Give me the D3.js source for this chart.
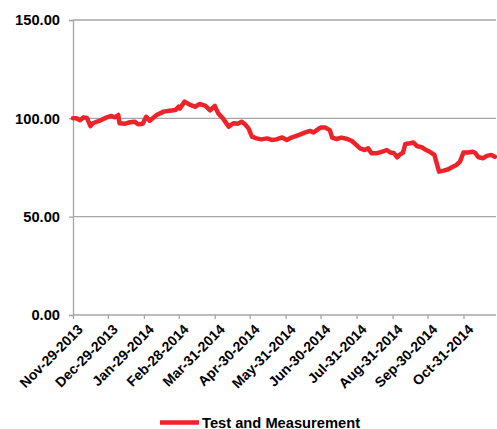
<!DOCTYPE html>
<html>
<head>
<meta charset="utf-8">
<script src="https://cdn.jsdelivr.net/npm/d3@7"></script>
<style>
  html, body { margin: 0; padding: 0; background: #fff; }
  svg { display: block; }
  text { font-family: "Liberation Sans", Arial, sans-serif; font-weight: bold; fill: #000; }
</style>
</head>
<body>
<svg id="chart" width="497" height="429"></svg>
<script>
// Index level of the Test and Measurement group, Nov 2013 - Nov 2014
const seriesName = "Test and Measurement";

const dates = [
  "2013-11-29","2013-12-02","2013-12-05","2013-12-08","2013-12-11","2013-12-14","2013-12-16",
  "2013-12-22","2013-12-28","2014-01-01","2014-01-04","2014-01-07","2014-01-08","2014-01-13",
  "2014-01-17","2014-01-21","2014-01-24","2014-01-28","2014-01-31","2014-02-03","2014-02-09",
  "2014-02-15","2014-02-20","2014-02-25","2014-02-28","2014-03-01","2014-03-05","2014-03-10",
  "2014-03-14","2014-03-18","2014-03-23","2014-03-27","2014-03-31","2014-04-03","2014-04-07",
  "2014-04-12","2014-04-16","2014-04-20","2014-04-23","2014-04-26","2014-04-29","2014-05-02",
  "2014-05-06","2014-05-10","2014-05-15","2014-05-19","2014-05-23","2014-05-28","2014-06-01",
  "2014-06-05","2014-06-11","2014-06-17","2014-06-21","2014-06-24","2014-06-27","2014-06-30",
  "2014-07-04","2014-07-08","2014-07-10","2014-07-14","2014-07-18","2014-07-23","2014-07-27",
  "2014-07-31","2014-08-03","2014-08-07","2014-08-10","2014-08-13","2014-08-17","2014-08-22",
  "2014-08-26","2014-08-29","2014-09-01","2014-09-04","2014-09-06","2014-09-09","2014-09-11",
  "2014-09-15","2014-09-18","2014-09-21","2014-09-25","2014-09-28","2014-10-02","2014-10-06",
  "2014-10-08","2014-10-10","2014-10-14","2014-10-18","2014-10-21","2014-10-25","2014-10-28",
  "2014-10-31","2014-11-04","2014-11-08","2014-11-10","2014-11-13","2014-11-17","2014-11-20",
  "2014-11-24","2014-11-27"
];

const values = [
  100.0, 100.0, 99.0, 100.5, 100.2, 96.0, 97.5,
  98.8, 100.5, 101.2, 100.5, 101.7, 97.5, 97.3,
  98.0, 98.3, 97.0, 97.3, 100.8, 98.8, 101.7,
  103.4, 103.9, 104.2, 105.9, 105.0, 108.5, 106.8,
  105.9, 107.3, 106.3, 104.0, 106.3, 102.5, 100.0,
  95.8, 97.5, 97.3, 98.3, 97.0, 94.9, 90.7,
  89.8, 89.3, 89.8, 89.0, 89.3, 90.3, 89.0,
  90.2, 91.5, 92.9, 93.6, 92.8, 94.1, 95.3,
  95.3, 94.0, 90.2, 89.5, 90.2, 89.5, 88.5,
  86.4, 84.7, 83.9, 84.7, 82.2, 82.2, 83.0,
  83.9, 82.6, 82.4, 80.2, 81.4, 82.6, 87.0,
  87.3, 87.7, 85.9, 85.3, 84.2, 83.0, 81.4,
  77.1, 72.9, 73.4, 74.1, 75.1, 76.3, 78.0,
  82.6, 82.6, 83.0, 82.5, 80.2, 79.7, 80.9,
  81.4, 80.5
];

const xTickDates = [
  "2013-11-29","2013-12-29","2014-01-29","2014-02-28","2014-03-31","2014-04-30",
  "2014-05-31","2014-06-30","2014-07-31","2014-08-31","2014-09-30","2014-10-31"
];
const yTicks = [0, 50, 100, 150];

const parse = d3.utcParse("%Y-%m-%d");
const fmtDate = d3.utcFormat("%b-%d-%Y");
const data = dates.map((d, i) => ({ date: parse(d), value: values[i] }));

const svg = d3.select("#chart");
const plot = { left: 73, right: 496, top: 20, bottom: 315 };

const x = d3.scaleUtc()
  .domain([parse("2013-11-29"), parse("2014-11-28")])
  .range([plot.left, plot.right]);
const y = d3.scaleLinear().domain([0, 150]).range([plot.bottom, plot.top]);

const gridColor = "#a6a6a6";
const fontStack = "'Liberation Sans', Arial, sans-serif";

// Horizontal gridlines
svg.append("g")
  .selectAll("line")
  .data(yTicks.filter(v => v > 0))
  .join("line")
  .attr("x1", plot.left).attr("x2", plot.right)
  .attr("y1", d => y(d)).attr("y2", d => y(d))
  .attr("stroke", gridColor).attr("stroke-width", 1.3);

// Y axis
const yAxis = svg.append("g")
  .attr("transform", `translate(${plot.left},0)`)
  .call(d3.axisLeft(y).tickValues(yTicks).tickFormat(d3.format(".2f")).tickSize(4).tickPadding(9));
yAxis.select(".domain").attr("stroke", gridColor).attr("stroke-width", 1.3);
yAxis.selectAll(".tick line").attr("stroke", gridColor).attr("stroke-width", 1.3);
yAxis.selectAll(".tick text")
  .attr("font-size", 14.7).attr("font-weight", "bold")
  .attr("font-family", fontStack).attr("fill", "#000");

// X axis
const xAxis = svg.append("g")
  .attr("transform", `translate(0,${plot.bottom})`)
  .call(d3.axisBottom(x).tickValues(xTickDates.map(parse)).tickFormat(fmtDate).tickSize(4).tickSizeOuter(0));
xAxis.select(".domain").attr("stroke", gridColor).attr("stroke-width", 1.3)
  .attr("d", `M${plot.left},0H${plot.right}`);
xAxis.selectAll(".tick line").attr("stroke", gridColor).attr("stroke-width", 1.3);
xAxis.selectAll(".tick text")
  .attr("font-size", 14).attr("font-weight", "bold")
  .attr("font-family", fontStack).attr("fill", "#000")
  .attr("text-anchor", "end")
  .attr("dy", null)
  .attr("transform", "translate(3,8) rotate(-45)")
  .attr("x", 0).attr("y", 0)
  .attr("dominant-baseline", "hanging");

// Series line
const lineColor = "#ee2229";
svg.append("path")
  .datum(data)
  .attr("fill", "none")
  .attr("stroke", lineColor)
  .attr("stroke-width", 4.5)
  .attr("stroke-linejoin", "round")
  .attr("stroke-linecap", "round")
  .attr("d", d3.line().x(d => x(d.date)).y(d => y(d.value)));

// Legend
const legend = svg.append("g").attr("transform", "translate(160,422.5)");
legend.append("line")
  .attr("x1", 0).attr("x2", 39).attr("y1", 0).attr("y2", 0)
  .attr("stroke", lineColor).attr("stroke-width", 4.5);
legend.append("text")
  .attr("x", 42).attr("y", 5)
  .attr("font-size", 14.7)
  .text(seriesName);
</script>
</body>
</html>
